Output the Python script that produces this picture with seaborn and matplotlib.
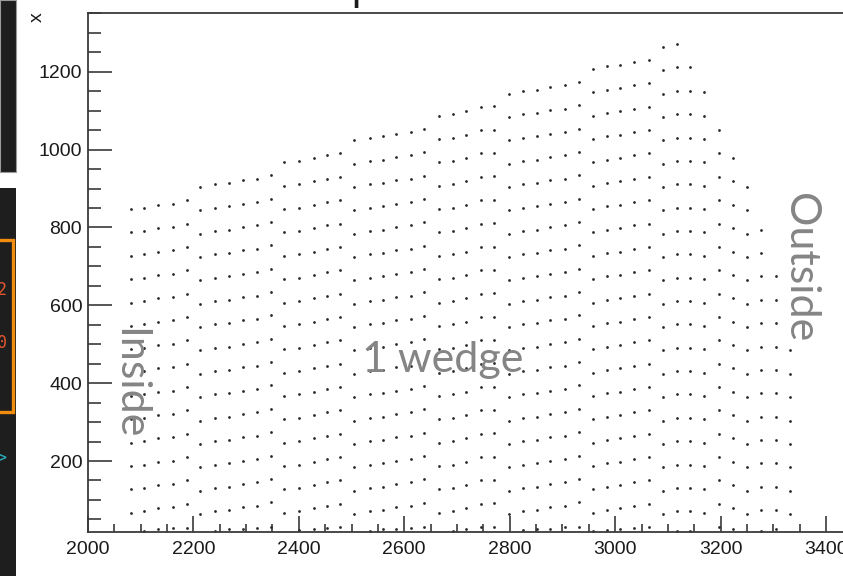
import numpy as np
import pandas as pd
import matplotlib
matplotlib.use("Agg")
import matplotlib.pyplot as plt
import seaborn as sns
from matplotlib.patches import Rectangle
from matplotlib.ticker import MultipleLocator

# Pad columns across one wedge, grouped by readout module (x position)
col_x = [2081, 2107, 2134, 2162, 2188,
         2213, 2241, 2268, 2294, 2320, 2347,
         2372, 2401, 2428, 2454, 2479,
         2505, 2535, 2560, 2585, 2612, 2638,
         2666, 2692, 2718, 2745, 2770,
         2799, 2826, 2851, 2877, 2904, 2932,
         2958, 2984, 3010, 3036, 3065,
         3090, 3117, 3142, 3168,
         3197, 3224, 3249, 3276, 3305, 3332]

# Lowest regular pad in each column
col_y0 = [67, 71, 78, 81, 90,
          64, 71, 74, 81, 85, 94,
          67, 71, 78, 85, 90,
          64, 71, 74, 81, 85, 93,
          67, 71, 78, 90, 91,
          64, 71, 74, 81, 85, 94,
          67, 74, 78, 85, 90,
          64, 71, 71, 67,
          90, 78, 64, 74, 74, 64]

# Number of regular pads in each column
col_rows = [14, 14, 14, 14, 14,
            15, 15, 15, 15, 15, 15,
            16, 16, 16, 16, 16,
            17, 17, 17, 17, 17, 17,
            18, 18, 18, 18, 18,
            19, 19, 19, 19, 19, 19,
            20, 20, 20, 20, 20,
            21, 21, 20, 19,
            17, 16, 15, 13, 11, 8]

# Edge pad sitting just above the lower boundary (nan: no edge pad)
nan = np.nan
col_edge = [nan, 21, 25, 28, 28,
            nan, 21, 25, 25, 28, 31,
            nan, 23, 25, 28, 31,
            nan, 21, 25, 25, 28, 31,
            nan, 21, 25, 30, 31,
            nan, 23, 25, 25, 30, 31,
            21, 23, 25, 28, 31,
            nan, 21, 21, nan,
            31, 25, nan, 21, 25, nan]

row_pitch = 60

xs, ys = [], []
for x, y0, n, e in zip(col_x, col_y0, col_rows, col_edge):
    for k in range(n):
        xs.append(x)
        ys.append(y0 + k * row_pitch)
    if not np.isnan(e):
        xs.append(x)
        ys.append(e)
pads = pd.DataFrame({"x": xs, "y": ys})

sns.set_theme(style="white")
plt.rcParams["font.family"] = ["Liberation Sans", "DejaVu Sans"]

W, H = 843, 576
fig = plt.figure(figsize=(W / 100, H / 100), dpi=100)
fig.patch.set_facecolor("white")

x_lo, x_hi = 2000, 3440
y_lo, y_hi = 18.4, 1351.6
ax_left, ax_bottom = 87.8, 44.3
ax_w = (x_hi - x_lo) * 0.5274
ax_h = 519.0
ax = fig.add_axes([ax_left / W, ax_bottom / H, ax_w / W, ax_h / H])

sns.scatterplot(data=pads, x="x", y="y", ax=ax, s=4, color="#2a2a2a",
                linewidth=0, marker="o", legend=False)

ax.set_xlim(x_lo, x_hi)
ax.set_ylim(y_lo, y_hi)
ax.set_xlabel("")
ax.set_ylabel("")

frame_c = "#3a3a3a"
for side in ["left", "bottom", "top", "right"]:
    ax.spines[side].set_color(frame_c)
    ax.spines[side].set_linewidth(1.3)

ax.xaxis.set_major_locator(MultipleLocator(200))
ax.xaxis.set_minor_locator(MultipleLocator(50))
ax.yaxis.set_major_locator(MultipleLocator(200))
ax.yaxis.set_minor_locator(MultipleLocator(50))

ax.tick_params(axis="x", which="major", direction="in", length=11.2, width=1.2,
               color=frame_c, labelsize=14, labelcolor="#1a1a1a", pad=6.5,
               bottom=True, top=False)
ax.tick_params(axis="x", which="minor", direction="in", length=5.8, width=1.2,
               color=frame_c, bottom=True, top=False)
ax.tick_params(axis="y", which="major", direction="in", length=17.3, width=1.2,
               color=frame_c, labelsize=14, labelcolor="#1a1a1a", pad=4,
               left=True, right=False)
ax.tick_params(axis="y", which="minor", direction="in", length=9, width=1.2,
               color=frame_c, left=True, right=False)

label_font = dict(family=["Lato", "DejaVu Sans"], fontweight="normal",
                  color="#858585", fontsize=31)
ax.text(2673, 429, "1 wedge", ha="center", va="baseline", **label_font)
ax.text(2055, 542, "Inside", ha="left", va="baseline", rotation=-90,
        rotation_mode="anchor", **label_font)
ax.text(3327, 888, "Outside", ha="left", va="baseline", rotation=-90,
        rotation_mode="anchor", **label_font)

# y-axis title
fig.text(37 / W, 1 - 17 / H, "x", rotation=90, ha="center", va="center",
         fontsize=14, color="#1a1a1a")
# clipped title above the frame
fig.text(363 / W, 1 + 1 / H, "p", ha="center", va="baseline",
         fontsize=30, color="#1a1a1a")

# terminal window strip on the left edge
dark = "#1e1e1e"
fig.add_artist(Rectangle((0, 1 - 172 / H), 15.5 / W, 172 / H,
                         transform=fig.transFigure, facecolor=dark,
                         edgecolor="#9a9a9a", linewidth=0.8))
fig.add_artist(Rectangle((0, 0), 15.5 / W, (H - 188) / H,
                         transform=fig.transFigure, facecolor=dark,
                         edgecolor="none"))
fig.add_artist(Rectangle((-10 / W, 1 - 412 / H), 23 / W, 172 / H,
                         transform=fig.transFigure, facecolor="none",
                         edgecolor="#f28c0f", linewidth=2.4))
mono = dict(family=["DejaVu Sans Mono"], fontsize=12, ha="center", va="center")
fig.text(2 / W, 1 - 290 / H, "2", color="#e4572e", **mono)
fig.text(2 / W, 1 - 343 / H, "0", color="#e4572e", **mono)
fig.text(1 / W, 1 - 458 / H, ">", color="#2bb3c0", **mono)

fig.savefig("out.png", dpi=100)
